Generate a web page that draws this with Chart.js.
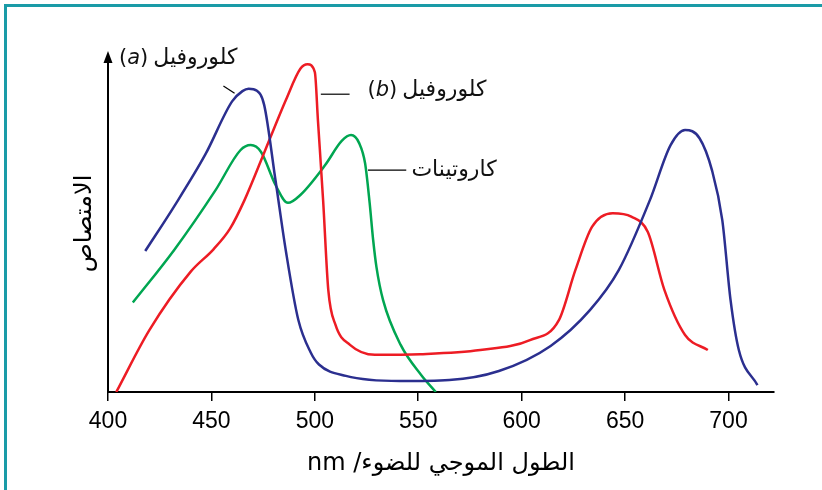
<!DOCTYPE html>
<html>
<head>
<meta charset="utf-8">
<script src="https://cdn.jsdelivr.net/npm/chart.js@4.4.1/dist/chart.umd.min.js"></script>
<style>
  html, body { margin: 0; padding: 0; background: #fff; }
  #wrap { position: relative; width: 822px; height: 490px; }
  #frame { position: absolute; left: 4px; top: 4px; right: -10px; bottom: -10px;
           border-left: 3px solid #1a9ba7; border-top: 3px solid #1a9ba7; }
  canvas { position: absolute; left: 0; top: 0; }
</style>
</head>
<body>
<div id="wrap">
  <div id="frame"></div>
  <canvas id="chart" width="822" height="490" dir="rtl"></canvas>
</div>
<script>
// wavelength (nm) and relative absorption
const wavelengthA = [418, 432, 447, 460, 465, 468, 472, 475.5, 481, 486, 492, 498, 502, 515, 541, 565, 589, 614, 633, 647, 662, 672, 679, 686, 692, 697, 701, 705, 714];
const absorbA =     [41, 54, 69, 84.5, 87.5, 88.2, 87.6, 83.5, 61.5, 41, 21, 11.5, 8, 4.7, 3.2, 3.5, 6.1, 13.4, 23.8, 35.5, 55.8, 71.8, 76.2, 73.8, 64.5, 50, 26.7, 12.2, 2];

const wavelengthB = [404, 420, 440, 451, 459, 466, 476, 486, 493, 496.5, 500, 501.5, 504, 506.5, 510, 517, 529, 551, 580, 604, 618, 626, 634, 644, 653, 661, 669, 679, 690];
const absorbB =     [0, 18, 35, 41.5, 47.5, 55.8, 70.3, 84.9, 94, 95.3, 93, 79, 55.8, 29.7, 19.5, 13.7, 10.8, 11, 12.2, 15.1, 20.9, 35.5, 48, 52, 51, 46.5, 29.7, 16.6, 12.2];

const wavelengthC = [412, 432, 452, 464, 469, 474, 481, 487, 493, 505, 513, 517.5, 521.5, 524.3, 526.5, 528.2, 529.8, 533, 541.5, 551.5, 558.5];
const absorbC =     [26, 41.3, 58.7, 70.3, 71.8, 69.8, 60.2, 55, 57.3, 66, 73, 74.7, 72.3, 66.5, 55, 44.2, 36.3, 26.7, 13.7, 4.9, 0];

const seriesNames = ['كلوروفيل (a)', 'كلوروفيل (b)', 'كاروتينات'];
const xTicks = [400, 450, 500, 550, 600, 650, 700];
const xTitle = 'الطول الموجي للضوء/ nm';
const yTitle = 'الامتصاص';

const toPoints = (xs, ys) => xs.map((x, i) => ({ x: x, y: ys[i] }));

const arabicFont = '"DejaVu Sans", sans-serif';

// arrow on the y axis, series labels and their leader lines
const decorations = {
  id: 'decorations',
  afterDraw(chart) {
    const ctx = chart.ctx;
    const xs = chart.scales.x;
    const ys = chart.scales.y;
    const px = (v) => xs.getPixelForValue(v);
    const py = (v) => ys.getPixelForValue(v);

    ctx.save();
    ctx.direction = 'ltr';
    // arrow head
    const ax = xs.left;
    const ay = ys.top;
    ctx.fillStyle = '#000';
    ctx.beginPath();
    ctx.moveTo(ax, ay - 4);
    ctx.lineTo(ax - 4.5, ay + 8);
    ctx.lineTo(ax + 4.5, ay + 8);
    ctx.closePath();
    ctx.fill();

    // leader lines
    ctx.strokeStyle = '#000';
    ctx.lineWidth = 1.2;
    const lines = [
      [[455.8, 89], [461.2, 86.9]],
      [[502.9, 86.6], [516.8, 86.6]],
      [[525.7, 64.5], [544.2, 64.5]]
    ];
    lines.forEach((l) => {
      ctx.beginPath();
      ctx.moveTo(px(l[0][0]), py(l[0][1]));
      ctx.lineTo(px(l[1][0]), py(l[1][1]));
      ctx.stroke();
    });

    // labels: [series index, right edge nm, centre value, letter]
    const labels = [
      [0, 462.6, 97.1, 'a'],
      [1, 583, 87.8, 'b'],
      [2, 587.9, 64.5, null]
    ];
    ctx.textBaseline = 'middle';
    ctx.fillStyle = '#111';
    labels.forEach((lb) => {
      const name = seriesNames[lb[0]].replace(/\s*\(.*\)/, '');
      let x = px(lb[1]);
      const y = py(lb[2]);
      ctx.font = '22px ' + arabicFont;
      ctx.textAlign = 'right';
      ctx.fillText(name, x, y);
      if (lb[3]) {
        x -= ctx.measureText(name).width + 5;
        ctx.font = '21px "DejaVu Sans", sans-serif';
        ctx.fillText(')', x, y);
        x -= ctx.measureText(')').width;
        ctx.font = 'italic 21px "DejaVu Sans", sans-serif';
        ctx.fillText(lb[3], x, y);
        x -= ctx.measureText(lb[3]).width;
        ctx.font = '21px "DejaVu Sans", sans-serif';
        ctx.fillText('(', x, y);
      }
    });
    ctx.restore();
  }
};

new Chart(document.getElementById('chart'), {
  type: 'line',
  data: {
    datasets: [
      { label: seriesNames[0], data: toPoints(wavelengthA, absorbA), borderColor: '#2b2f8f' },
      { label: seriesNames[1], data: toPoints(wavelengthB, absorbB), borderColor: '#ed1c24' },
      { label: seriesNames[2], data: toPoints(wavelengthC, absorbC), borderColor: '#00a651' }
    ]
  },
  options: {
    responsive: false,
    animation: false,
    devicePixelRatio: 1,
    layout: { padding: { left: 8, right: 48, top: 55, bottom: 0 } },
    elements: {
      point: { radius: 0 },
      line: { borderWidth: 2.5, tension: 0.4, cubicInterpolationMode: 'monotone', fill: false }
    },
    plugins: {
      legend: { display: false },
      tooltip: { enabled: false }
    },
    scales: {
      x: {
        type: 'linear',
        min: 400,
        max: 722,
        afterBuildTicks: (scale) => { scale.ticks = xTicks.map((v) => ({ value: v })); },
        afterFit: (scale) => { scale.height = 98; },
        grid: { drawOnChartArea: false, drawTicks: true, tickLength: 9, color: '#000', lineWidth: 1.5 },
        border: { display: true, color: '#000', width: 2 },
        ticks: { color: '#000', padding: 7, font: { family: '"Liberation Sans", Arial, sans-serif', size: 23 } },
        title: {
          display: true, text: xTitle, color: '#000',
          font: { family: arabicFont, size: 24 },
          padding: { top: 0, bottom: 12 }
        }
      },
      y: {
        min: 0,
        max: 98,
        afterFit: (scale) => { scale.width = 100; },
        grid: { display: true, drawOnChartArea: false, drawTicks: false },
        border: { display: true, color: '#000', width: 2 },
        ticks: { display: false },
        title: {
          display: true, text: yTitle, color: '#000',
          font: { family: arabicFont, size: 24 },
          padding: { top: 62, bottom: 0 }
        }
      }
    }
  },
  plugins: [decorations]
});
</script>
</body>
</html>
